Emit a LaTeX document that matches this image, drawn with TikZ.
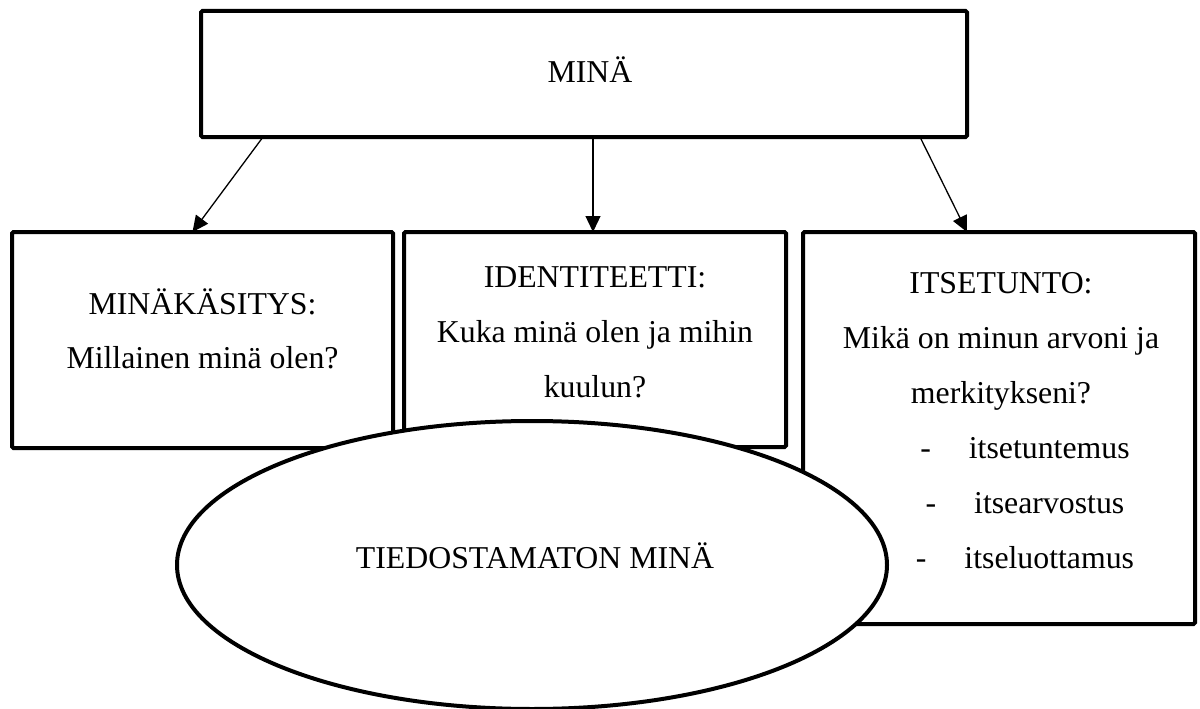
\documentclass[tikz,border=0pt]{standalone}
\usepackage{fontspec}
\setmainfont{Liberation Serif}
\usetikzlibrary{arrows.meta,shapes.geometric,calc}
\begin{document}
\begin{tikzpicture}[x=1pt,y=-1pt,
  box/.style={draw,line width=4pt,rounded corners=1.5pt,inner sep=0pt,outer sep=0pt,fill=white},
  lbl/.style={anchor=base,inner sep=0pt,font=\fontsize{31.8}{55}\selectfont},
  arr/.style={line width=1.3pt,-{Triangle[length=16pt,width=15pt]}},
  oval/.style={draw,ellipse,line width=4pt,fill=white,inner sep=0pt,outer sep=0pt}]
\useasboundingbox (0,0) rectangle (1200,709);
% boxes
\node[box,minimum width=766pt,minimum height=126pt] (top) at (584,74) {};
\node[box,minimum width=381pt,minimum height=216pt] (b1) at (202.5,340) {};
\node[box,minimum width=382pt,minimum height=215pt] (b2) at (595,339.5) {};
\node[box,minimum width=392pt,minimum height=392pt] (b3) at (999,428) {};
% texts
\node[lbl] (tmina) at (590,82) {MINÄ};
\node[lbl] (t1a) at (202.5,314) {MINÄKÄSITYS:};
\node[lbl] (t1b) at (202.5,368) {Millainen minä olen?};
\node[lbl] (t2a) at (595,287) {IDENTITEETTI:};
\node[lbl] (t2b) at (595,342) {Kuka minä olen ja mihin};
\node[lbl] (t2c) at (595,397) {kuulun?};
\node[lbl] (t3a) at (1001,293) {ITSETUNTO:};
\node[lbl] (t3b) at (1001,348) {Mikä on minun arvoni ja};
\node[lbl] (t3c) at (1001,403) {merkitykseni?};
\node[lbl] (t3d) at (1025,458) {-\hspace{38pt}itsetuntemus};
\node[lbl] (t3e) at (1025,513) {-\hspace{38pt}itsearvostus};
\node[lbl] (t3f) at (1025,568) {-\hspace{38pt}itseluottamus};
% connectors
\draw[arr] ([xshift=62pt]top.south west) -- ([xshift=-10pt]b1.north);
\draw[arr] ([xshift=-2pt]b2.north |- top.south) -- ([xshift=-2pt]b2.north);
\draw[arr] ([xshift=-47pt]top.south east) -- ([xshift=-32pt]b3.north);
% ellipse
\node[oval,minimum width=710pt,minimum height=288pt] (ell) at (532,565) {};
\node[lbl] (tell) at (535,568) {TIEDOSTAMATON MINÄ};
\end{tikzpicture}
\end{document}
